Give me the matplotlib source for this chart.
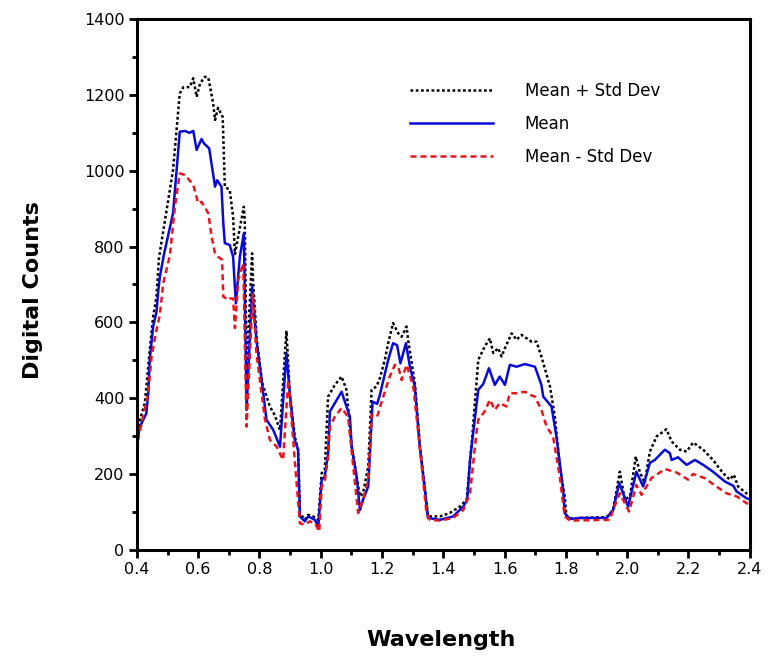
import matplotlib
matplotlib.use("Agg")
import matplotlib.pyplot as plt
from matplotlib.ticker import MultipleLocator, FormatStrFormatter

# values
wl_plus = [0.400, 0.410, 0.426, 0.442, 0.453, 0.464, 0.472, 0.518, 0.540, 0.551,
           0.573, 0.584, 0.595, 0.606, 0.622, 0.633, 0.649, 0.655, 0.665, 0.680,
           0.687, 0.703, 0.714, 0.720, 0.749, 0.752, 0.758, 0.776, 0.779, 0.791,
           0.809, 0.834, 0.850, 0.867, 0.888, 0.899, 0.915, 0.926, 0.932, 0.948,
           0.959, 0.975, 0.992, 1.003, 1.013, 1.024, 1.046, 1.068, 1.084, 1.101,
           1.117, 1.128, 1.138, 1.155, 1.166, 1.182, 1.193, 1.209, 1.220, 1.236,
           1.253, 1.264, 1.280, 1.285, 1.307, 1.323, 1.340, 1.350, 1.389, 1.421,
           1.454, 1.476, 1.492, 1.514, 1.535, 1.552, 1.563, 1.579, 1.590, 1.601,
           1.623, 1.639, 1.655, 1.688, 1.704, 1.720, 1.748, 1.764, 1.780, 1.796,
           1.802, 1.824, 1.845, 1.933, 1.954, 1.976, 1.992, 2.009, 2.028, 2.041,
           2.057, 2.074, 2.096, 2.128, 2.145, 2.172, 2.194, 2.215, 2.248, 2.280,
           2.313, 2.335, 2.348, 2.362, 2.389, 2.400]
dc_plus = [298, 343, 387, 527, 615, 668, 770, 1002, 1204, 1220,
           1221, 1244, 1195, 1230, 1248, 1246, 1178, 1134, 1166, 1142,
           958, 949, 879, 780, 905, 870, 470, 782, 712, 555,
           440, 378, 355, 316, 578, 410, 299, 264, 97, 79,
           92, 88, 79, 202, 211, 404, 435, 457, 422, 272,
           193, 141, 149, 220, 422, 431, 453, 501, 545, 598,
           571, 562, 589, 554, 440, 281, 158, 88, 88, 97,
           114, 132, 275, 501, 536, 558, 519, 532, 510, 532,
           571, 554, 567, 549, 549, 510, 431, 351, 220, 141,
           88, 81, 84, 86, 105, 206, 132, 141, 246, 206,
           176, 259, 299, 318, 286, 264, 259, 283, 264, 237,
           202, 185, 198, 167, 149, 145]

wl_mean = [0.400, 0.410, 0.431, 0.437, 0.442, 0.453, 0.464, 0.470, 0.475, 0.488,
           0.518, 0.540, 0.557, 0.571, 0.584, 0.595, 0.611, 0.619, 0.636, 0.655,
           0.662, 0.676, 0.682, 0.687, 0.703, 0.714, 0.723, 0.736, 0.749, 0.758,
           0.776, 0.790, 0.807, 0.823, 0.845, 0.867, 0.888, 0.899, 0.915, 0.926,
           0.932, 0.948, 0.959, 0.981, 0.992, 1.003, 1.013, 1.024, 1.030, 1.046,
           1.068, 1.095, 1.101, 1.117, 1.128, 1.138, 1.155, 1.169, 1.184, 1.193,
           1.220, 1.236, 1.249, 1.260, 1.278, 1.291, 1.307, 1.323, 1.340, 1.350,
           1.389, 1.432, 1.465, 1.478, 1.487, 1.514, 1.530, 1.549, 1.568, 1.584,
           1.601, 1.617, 1.639, 1.666, 1.699, 1.720, 1.726, 1.753, 1.769, 1.791,
           1.796, 1.813, 1.845, 1.933, 1.954, 1.974, 2.003, 2.030, 2.052, 2.074,
           2.090, 2.123, 2.139, 2.145, 2.166, 2.194, 2.221, 2.248, 2.280, 2.319,
           2.346, 2.357, 2.389, 2.400]
dc_mean = [280, 325, 360, 413, 501, 589, 628, 685, 720, 778,
           888, 1103, 1105, 1100, 1105, 1055, 1084, 1072, 1059, 958,
           975, 958, 861, 809, 804, 773, 650, 773, 835, 369,
           694, 554, 448, 343, 316, 272, 519, 413, 290, 264,
           88, 75, 88, 79, 61, 185, 193, 255, 365, 387,
           417, 351, 272, 193, 105, 132, 167, 391, 385, 409,
           501, 545, 540, 492, 545, 483, 431, 272, 158, 84,
           79, 88, 114, 132, 237, 422, 437, 479, 435, 457,
           435, 488, 483, 490, 483, 435, 404, 378, 299, 158,
           97, 81, 84, 84, 105, 176, 114, 206, 167, 229,
           237, 264, 255, 237, 244, 224, 237, 224, 206, 180,
           169, 154, 136, 133]

wl_minus = [0.400, 0.404, 0.420, 0.437, 0.448, 0.464, 0.475, 0.486, 0.508, 0.524,
            0.540, 0.557, 0.584, 0.600, 0.611, 0.633, 0.644, 0.655, 0.665, 0.678,
            0.682, 0.698, 0.703, 0.714, 0.720, 0.731, 0.747, 0.758, 0.778, 0.790,
            0.818, 0.834, 0.856, 0.877, 0.894, 0.910, 0.915, 0.932, 0.948, 0.964,
            0.981, 0.995, 1.003, 1.013, 1.024, 1.030, 1.046, 1.068, 1.089, 1.106,
            1.122, 1.138, 1.155, 1.166, 1.184, 1.204, 1.225, 1.242, 1.253, 1.264,
            1.280, 1.302, 1.323, 1.345, 1.356, 1.389, 1.432, 1.465, 1.487, 1.508,
            1.514, 1.535, 1.552, 1.568, 1.584, 1.606, 1.617, 1.639, 1.666, 1.682,
            1.699, 1.720, 1.737, 1.758, 1.780, 1.796, 1.813, 1.943, 1.954, 1.976,
            2.006, 2.030, 2.047, 2.079, 2.123, 2.161, 2.199, 2.215, 2.253, 2.291,
            2.324, 2.357, 2.389, 2.400]
dc_minus = [262, 290, 351, 413, 510, 580, 620, 703, 778, 905,
            993, 989, 963, 914, 918, 888, 826, 782, 773, 765,
            668, 659, 663, 663, 585, 712, 756, 325, 677, 519,
            343, 290, 272, 237, 448, 290, 237, 70, 66, 75,
            70, 48, 167, 180, 246, 325, 351, 374, 351, 220,
            97, 132, 185, 356, 351, 404, 457, 488, 483, 448,
            488, 431, 272, 97, 79, 77, 84, 105, 149, 308,
            343, 365, 396, 369, 387, 378, 413, 413, 417, 409,
            404, 369, 325, 299, 193, 88, 77, 79, 105, 149,
            101, 171, 145, 189, 213, 204, 185, 200, 189, 167,
            149, 141, 123, 120]

plt.rcParams['font.family'] = 'DejaVu Sans'

fig = plt.figure(figsize=(7.69, 6.6), dpi=100)
ax = fig.add_axes([0.178, 0.167, 0.797, 0.804])

ax.plot(wl_plus, dc_plus, color='black', lw=1.8, dashes=(1.1, 1.0),
        label='Mean + Std Dev')
ax.plot(wl_mean, dc_mean, color='#0a0ad8', lw=1.8, label='Mean')
ax.plot(wl_minus, dc_minus, color='#e8161c', lw=1.8, dashes=(2.4, 1.6),
        label='Mean - Std Dev')

ax.set_xlim(0.4, 2.4)
ax.set_ylim(0, 1400)
ax.xaxis.set_major_locator(MultipleLocator(0.2))
ax.xaxis.set_minor_locator(MultipleLocator(0.1))
ax.yaxis.set_major_locator(MultipleLocator(200))
ax.yaxis.set_minor_locator(MultipleLocator(100))
ax.xaxis.set_major_formatter(FormatStrFormatter('%.1f'))

for s in ax.spines.values():
    s.set_linewidth(2.2)
ax.tick_params(which='major', direction='out', length=6, width=2,
               labelsize=11.5, pad=3)
ax.tick_params(which='minor', direction='out', length=3.5, width=2)

ax.legend(loc='upper left', bbox_to_anchor=(0.445, 0.882), frameon=False,
          fontsize=12, handlelength=5, handletextpad=1.9, labelspacing=0.9,
          borderpad=0, borderaxespad=0)

fig.text(0.043, 0.561, 'Digital Counts', rotation=90, ha='center', va='center',
         fontsize=16, fontweight='bold')
fig.text(0.573, 0.03, 'Wavelength', ha='center', va='center',
         fontsize=16, fontweight='bold')

fig.savefig('out.png', dpi=100)
